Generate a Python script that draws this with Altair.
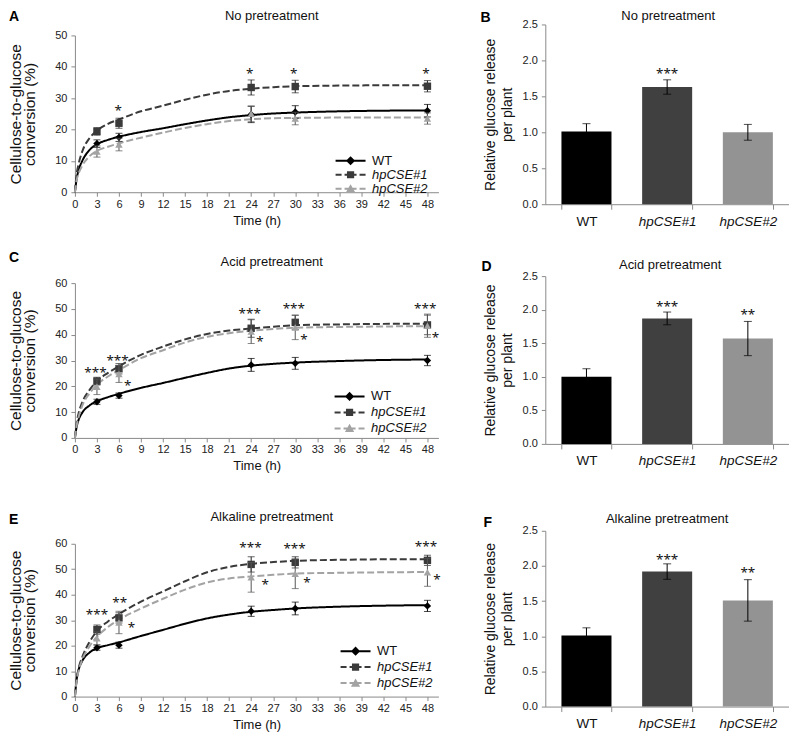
import altair as alt
import pandas as pd

FONT = "Liberation Sans"
STAR_FONT = "Noto Sans"
SERIES = ["WT", "hpCSE#1", "hpCSE#2"]
TIMES = [3, 6, 24, 30, 48]
LINE_COLORS = ["#000000", "#3a3a3a", "#a3a3a3"]
ERR_COLORS = ["#000000", "#222222", "#555555"]
MARKERS = ["diamond", "square", "triangle-up"]
DASHES = [[1, 0], [7, 3], [7, 3]]
BAR_COLORS = ["#000000", "#404040", "#939393"]
LEGEND_PATHS = [
    "M-3.75,-0.25H3.75V0.25H-3.75Z M0,-1.15L1.15,0L0,1.15L-1.15,0Z",
    "M-3.75,-0.25H-2.25V0.25H-3.75Z M-1.5,-0.25H1.5V0.25H-1.5Z M2.25,-0.25H3.75V0.25H2.25Z M-0.9,-0.9H0.9V0.9H-0.9Z",
    "M-3.75,-0.25H-2.25V0.25H-3.75Z M-1.5,-0.25H1.5V0.25H-1.5Z M2.25,-0.25H3.75V0.25H2.25Z M0,-1.15L1.15,0.9H-1.15Z",
]
X_TICKS = list(range(0, 49, 3))
CURVE_T = [0, 0.25, 0.5, 1, 2, 3, 4.5, 6, 9, 12, 15, 18, 21, 24, 27, 30, 36, 42, 48]

# ---- Panel A: No pretreatment (conversion, %)
A_MEAN = {"WT": [15.5, 17.5, 24.8, 25.6, 26.0],
          "hpCSE#1": [19.4, 22.0, 33.4, 33.7, 33.8],
          "hpCSE#2": [13.0, 15.2, 25.0, 23.5, 23.5]}
A_ERR = {"WT": [1.2, 1.3, 2.6, 2.0, 2.0],
         "hpCSE#1": [1.2, 1.6, 2.4, 2.0, 1.8],
         "hpCSE#2": [1.8, 2.0, 2.5, 2.0, 1.8]}
A_CURVE = {"WT": [0, 4.5, 7.0, 10.0, 13.5, 15.3, 16.7, 17.7, 19.2, 20.4, 21.7, 22.9, 23.9, 24.6, 25.1, 25.4, 25.8, 26.0, 26.1],
           "hpCSE#1": [0, 6.0, 9.0, 13.0, 17.3, 19.6, 21.8, 23.2, 25.8, 27.6, 29.5, 31.1, 32.3, 33.0, 33.5, 33.8, 34.0, 34.1, 34.1],
           "hpCSE#2": [0, 4.0, 6.0, 8.5, 11.5, 13.2, 14.5, 15.6, 17.4, 19.0, 20.5, 21.7, 22.7, 23.3, 23.6, 23.7, 23.8, 23.8, 23.8]}
A_STAR_T = [5.9, 23.8, 29.8, 47.8]
A_STAR_V = [27.2, 38.9, 38.9, 38.9]
A_STAR_TXT = ["*", "*", "*", "*"]

# ---- Panel C: Acid pretreatment
C_MEAN = {"WT": [14.0, 16.4, 28.3, 28.9, 30.0],
          "hpCSE#1": [22.0, 26.8, 42.5, 44.8, 43.8],
          "hpCSE#2": [19.8, 24.8, 41.2, 42.8, 43.5]}
C_ERR = {"WT": [1.0, 1.0, 2.5, 2.3, 2.0],
         "hpCSE#1": [1.5, 2.0, 3.5, 2.8, 3.8],
         "hpCSE#2": [3.0, 3.3, 4.6, 4.7, 4.5]}
C_CURVE = {"WT": [0, 4.5, 7.0, 9.8, 12.6, 14.2, 15.8, 17.1, 19.4, 21.3, 23.3, 25.2, 26.9, 28.0, 28.7, 29.2, 29.8, 30.2, 30.4],
           "hpCSE#1": [0, 6.0, 9.5, 13.8, 18.6, 22.0, 25.2, 27.8, 32.2, 35.4, 38.2, 40.3, 41.6, 42.4, 43.1, 43.7, 44.0, 44.2, 44.3],
           "hpCSE#2": [0, 5.0, 8.0, 12.5, 17.3, 20.6, 23.8, 26.3, 30.9, 34.0, 37.0, 39.2, 40.6, 41.5, 42.2, 42.7, 43.0, 43.2, 43.3]}
C_STAR_T = [2.8, 5.8, 7.2, 23.8, 25.2, 29.8, 31.2, 47.7, 49.1]
C_STAR_V = [26.8, 31.5, 21.5, 49.7, 38.8, 51.5, 39.6, 51.5, 40.1]
C_STAR_TXT = ["***", "***", "*", "***", "*", "***", "*", "***", "*"]

# ---- Panel E: Alkaline pretreatment
E_MEAN = {"WT": [19.2, 20.2, 33.5, 34.6, 35.6],
          "hpCSE#1": [26.3, 30.9, 51.9, 52.7, 53.5],
          "hpCSE#2": [22.9, 29.1, 46.8, 48.2, 48.8]}
E_ERR = {"WT": [1.0, 1.2, 2.0, 2.5, 2.2],
         "hpCSE#1": [1.8, 2.0, 3.0, 2.2, 2.0],
         "hpCSE#2": [2.5, 4.4, 5.8, 5.8, 5.5]}
E_CURVE = {"WT": [0, 7.0, 10.5, 14.0, 17.3, 19.0, 20.2, 21.3, 23.8, 26.2, 28.6, 30.7, 32.2, 33.3, 34.0, 34.6, 35.3, 35.7, 35.9],
           "hpCSE#1": [0, 7.0, 11.0, 15.5, 21.5, 25.7, 29.5, 32.4, 37.3, 41.3, 45.3, 48.8, 50.9, 52.1, 52.8, 53.3, 53.7, 53.9, 53.9],
           "hpCSE#2": [0, 6.5, 10.0, 14.5, 19.8, 23.5, 27.3, 30.2, 34.6, 38.4, 42.0, 44.8, 46.4, 47.2, 47.8, 48.3, 48.6, 48.8, 48.9]}
E_STAR_T = [3.0, 6.1, 7.7, 23.9, 25.9, 29.9, 31.6, 47.8, 49.3]
E_STAR_V = [33.7, 38.4, 28.5, 59.9, 45.3, 59.5, 46.2, 60.4, 47.5]
E_STAR_TXT = ["***", "**", "*", "***", "*", "***", "*", "***", "*"]

# ---- Bar panels: relative glucose release per plant
B_VAL = [1.01, 1.63, 1.00]
B_ERR = [0.11, 0.10, 0.11]
B_STAR = ["", "***", ""]
B_STAR_V = [0, 1.87, 0]
D_VAL = [1.00, 1.87, 1.57]
D_ERR = [0.12, 0.095, 0.255]
D_STAR = ["", "***", "**"]
D_STAR_V = [0, 2.10, 1.98]
F_VAL = [1.01, 1.92, 1.51]
F_ERR = [0.11, 0.11, 0.295]
F_STAR = ["", "***", "**"]
F_STAR_V = [0, 2.14, 1.95]

TITLES = ["No pretreatment", "Acid pretreatment", "Alkaline pretreatment"]
TITLE_T = 26.8  # time (h) under the centre of each left-panel title

LABEL_STYLE = {"expr": "datum.label == 'WT' ? 'normal' : 'italic'"}
LW = 364


def line_panel(letter, title, mean, err, curve, st, sv, stxt, ymax, height,
               leg_x, leg_y, leg_pad, letter_dy, title_dy):
    xs = alt.Scale(domain=[0, 49.5], nice=False, zero=False)
    ys = alt.Scale(domain=[0, ymax], nice=False)
    xax = alt.Axis(values=X_TICKS, title="Time (h)", tickSize=4, labelPadding=2,
                   titlePadding=5, labelFontSize=11, titleFontSize=13,
                   labelOverlap=False, labelFlush=False)
    yax = alt.Axis(values=list(range(0, ymax + 1, 10)),
                   title=["Cellulose-to-glucose", "conversion (%)"],
                   tickSize=4, labelPadding=4, titlePadding=17, labelFontSize=11,
                   titleFontSize=15.5, titleLineHeight=14)
    X = alt.X("t:Q", scale=xs, axis=xax)
    rows = []
    for s in SERIES:
        for t, m, e in zip(TIMES, mean[s], err[s]):
            rows.append({"series": s, "t": t, "v": m, "lo": m - e, "hi": m + e})
    pts = pd.DataFrame(rows)
    cdf = pd.DataFrame([{"series": s, "t": t, "v": v}
                        for s in SERIES for t, v in zip(CURVE_T, curve[s])])
    sdf = pd.DataFrame({"t": st, "v": sv, "txt": stxt})

    layers = []
    for s, c, d in zip(SERIES, LINE_COLORS, DASHES):
        layers.append(
            alt.Chart(cdf).transform_filter(alt.datum.series == s)
            .mark_line(color=c, strokeWidth=2, strokeDash=d, interpolate="monotone")
            .encode(x=X, y=alt.Y("v:Q", scale=ys, axis=yax)))
    for s, c, ec, shp in zip(SERIES, LINE_COLORS, ERR_COLORS, MARKERS):
        base = alt.Chart(pts).transform_filter(alt.datum.series == s)
        layers.append(base.mark_rule(color=ec, strokeWidth=1)
                      .encode(x=X, y=alt.Y("lo:Q", scale=ys, axis=yax), y2="hi:Q"))
        for f in ["lo", "hi"]:
            layers.append(base.mark_tick(orient="horizontal", size=7, thickness=1, color=ec)
                          .encode(x=X, y=alt.Y(f + ":Q", scale=ys, axis=yax)))
        layers.append(base.mark_point(shape=shp, filled=True, size=55, color=c, opacity=1)
                      .encode(x=X, y=alt.Y("v:Q", scale=ys, axis=yax)))
    layers.append(alt.Chart(sdf).mark_text(font=STAR_FONT, fontSize=13.5, dy=8,
                                           baseline="alphabetic", color="#111")
                  .encode(x=X, y=alt.Y("v:Q", scale=ys, axis=yax), text="txt:N"))
    leg = alt.Legend(title=None, orient="none", legendX=leg_x, legendY=leg_y,
                     symbolSize=64, symbolStrokeWidth=0, symbolOpacity=1,
                     symbolOffset=8.5, labelOffset=15, labelFontSize=13,
                     labelFont=FONT, labelColor="#111", labelFontStyle=LABEL_STYLE,
                     rowPadding=leg_pad, padding=0)
    layers.append(
        alt.Chart(pts).transform_filter(alt.datum.t == 48)
        .mark_point(filled=True, opacity=0, size=64)
        .encode(x=X, y=alt.Y("v:Q", scale=ys, axis=yax),
                color=alt.Color("series:N", scale=alt.Scale(domain=SERIES, range=LINE_COLORS), legend=leg),
                shape=alt.Shape("series:N", scale=alt.Scale(domain=SERIES, range=LEGEND_PATHS), legend=leg)))
    lab = pd.DataFrame({"txt": [letter], "ttl": [title], "t": [TITLE_T]})
    layers.append(alt.Chart(lab).mark_text(fontSize=14, fontWeight="bold", align="left",
                                           baseline="alphabetic", color="#000")
                  .encode(x=alt.value(-66), y=alt.value(letter_dy), text="txt:N"))
    layers.append(alt.Chart(lab).mark_text(fontSize=13, align="center",
                                           baseline="alphabetic", color="#111")
                  .encode(x=X, y=alt.value(title_dy), text="ttl:N"))
    return alt.layer(*layers).properties(width=LW, height=height)


def bar_panel(letter, title, vals, errs, stars, star_v, height, shift, letter_dx, letter_dy,
              title_dx, title_dy):
    df = pd.DataFrame({"g": SERIES, "v": vals,
                       "lo": [v - e for v, e in zip(vals, errs)],
                       "hi": [v + e for v, e in zip(vals, errs)]})
    sdf = pd.DataFrame({"g": SERIES, "s": stars, "sv": star_v})
    sdf = sdf[sdf["s"] != ""]
    xax = alt.Axis(title=None, labelAngle=0, tickBand="extent", tickSize=5,
                   labelPadding=5, labelFontSize=13.5, labelColor="#111",
                   labelFontStyle=LABEL_STYLE)
    X = alt.X("g:N", sort=SERIES,
              scale=alt.Scale(domain=SERIES, paddingInner=0.38, paddingOuter=0.2), axis=xax)
    ys = alt.Scale(domain=[0, 2.5], nice=False, range=[height, -shift])
    yax = alt.Axis(values=[0, 0.5, 1.0, 1.5, 2.0, 2.5], format=".1f",
                   title=["Relative glucose release", "per plant"],
                   titleFontSize=14, titleLineHeight=17, titlePadding=8,
                   tickSize=4, labelPadding=4, labelFontSize=11)
    base = alt.Chart(df)
    bars = base.mark_bar().encode(
        x=X, y=alt.Y("v:Q", scale=ys, axis=yax),
        color=alt.Color("g:N", scale=alt.Scale(domain=SERIES, range=BAR_COLORS), legend=None))
    rule = base.mark_rule(color="#000", strokeWidth=1).encode(
        x=X, y=alt.Y("lo:Q", scale=ys, axis=yax), y2="hi:Q")
    cap1 = base.mark_tick(orient="horizontal", size=8, thickness=1, color="#000").encode(
        x=X, y=alt.Y("lo:Q", scale=ys, axis=yax))
    cap2 = base.mark_tick(orient="horizontal", size=8, thickness=1, color="#000").encode(
        x=X, y=alt.Y("hi:Q", scale=ys, axis=yax))
    st = alt.Chart(sdf).mark_text(font=STAR_FONT, fontSize=13.5, dy=8,
                                  baseline="alphabetic", color="#111").encode(
        x=X, y=alt.Y("sv:Q", scale=ys, axis=yax), text="s:N")
    lab = pd.DataFrame({"txt": [letter], "ttl": [title]})
    let = alt.Chart(lab).mark_text(fontSize=14, fontWeight="bold", align="left",
                                   baseline="alphabetic", color="#000").encode(
        x=alt.value(letter_dx), y=alt.value(letter_dy - shift), text="txt:N")
    ttl = alt.Chart(lab).mark_text(fontSize=13, align="center", baseline="alphabetic",
                                   color="#111").encode(
        x=alt.value(title_dx), y=alt.value(title_dy - shift), text="ttl:N")
    return alt.layer(bars, rule, cap1, cap2, st, let, ttl).properties(width=244, height=height)


pA = line_panel("A", TITLES[0], A_MEAN, A_ERR, A_CURVE, A_STAR_T, A_STAR_V, A_STAR_TXT,
                50, 157, 261, 119, -2, -14, -15)
pC = line_panel("C", TITLES[1], C_MEAN, C_ERR, C_CURVE, C_STAR_T, C_STAR_V, C_STAR_TXT,
                60, 155, 260, 107, 2, -21, -17)
pE = line_panel("E", TITLES[2], E_MEAN, E_ERR, E_CURVE, E_STAR_T, E_STAR_V, E_STAR_TXT,
                60, 153, 266, 101, 2, -20, -23)
pB = bar_panel("B", TITLES[0], B_VAL, B_ERR, B_STAR, B_STAR_V, 169, 11, -65, -2, 123, -4)
pD = bar_panel("D", TITLES[1], D_VAL, D_ERR, D_STAR, D_STAR_V, 168, 0, -64, -5, 125, -7)
pF = bar_panel("F", TITLES[2], F_VAL, F_ERR, F_STAR, F_STAR_V, 176, 0, -62, -4, 122, -8)


def indep(c):
    return (c.resolve_scale(color="independent", shape="independent")
             .resolve_legend(color="independent", shape="independent"))


left = indep(alt.vconcat(pA, indep(alt.vconcat(pC, pE, spacing=38)), spacing=24))
right = indep(alt.vconcat(pB, indep(alt.vconcat(pD, pF, spacing=45)), spacing=31))

chart = (indep(alt.hconcat(left, right, spacing=38))
         .properties(padding={"left": 0, "top": 2, "right": 0, "bottom": 0})
         .configure_view(stroke=None)
         .configure_axis(labelFont=FONT, titleFont=FONT, titleFontWeight="normal",
                         domainColor="#8a8a8a", tickColor="#8a8a8a", labelColor="#222",
                         titleColor="#111", grid=False)
         .configure_text(font=FONT)
         .configure_legend(labelFont=FONT))

chart.save("out.html", embed_options={"renderer": "svg", "actions": False})
